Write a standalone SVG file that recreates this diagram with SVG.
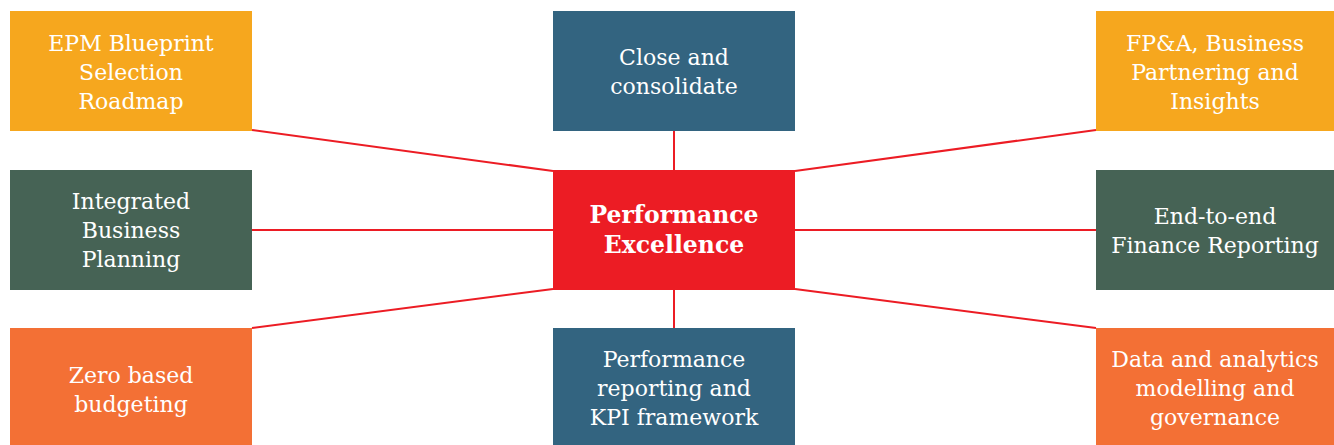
<svg xmlns="http://www.w3.org/2000/svg" width="1334" height="445" viewBox="0 0 1334 445">
<style>
.t{font-family:"DejaVu Serif","Liberation Serif",serif;font-size:22px;fill:#ffffff;text-anchor:middle}
.b{font-weight:bold;font-size:23.5px}
.c{stroke:#EC1C24;stroke-width:2;fill:none}
.y{fill:#F6A71E}.g{fill:#466355}.bl{fill:#336480}.r{fill:#EC1C24}.o{fill:#F37035}
</style>
<rect width="1334" height="445" fill="#ffffff"/>
<g id="connectors">
<line class="c" x1="252" y1="130" x2="553" y2="171"/>
<line class="c" x1="252" y1="230" x2="553" y2="230"/>
<line class="c" x1="252" y1="328" x2="553" y2="289"/>
<line class="c" x1="674" y1="131" x2="674" y2="170"/>
<line class="c" x1="674" y1="290" x2="674" y2="328"/>
<line class="c" x1="1096" y1="130" x2="795" y2="171"/>
<line class="c" x1="1096" y1="230" x2="795" y2="230"/>
<line class="c" x1="1096" y1="328" x2="795" y2="289"/>
</g>
<g id="epm"><rect class="y" x="10" y="11" width="242" height="120"/>
<text class="t" x="131" y="51">EPM Blueprint</text><text class="t" x="131" y="80">Selection</text><text class="t" x="131" y="109">Roadmap</text></g>
<g id="close"><rect class="bl" x="553" y="11" width="242" height="120"/>
<text class="t" x="674" y="65">Close and</text><text class="t" x="674" y="94">consolidate</text></g>
<g id="fpa"><rect class="y" x="1096" y="11" width="238" height="120"/>
<text class="t" x="1215" y="51">FP&amp;A, Business</text><text class="t" x="1215" y="80">Partnering and</text><text class="t" x="1215" y="109">Insights</text></g>
<g id="ibp"><rect class="g" x="10" y="170" width="242" height="120"/>
<text class="t" x="131" y="209">Integrated</text><text class="t" x="131" y="238">Business</text><text class="t" x="131" y="267">Planning</text></g>
<g id="center"><rect class="r" x="553" y="170" width="242" height="120"/>
<text class="t b" x="674" y="223">Performance</text><text class="t b" x="674" y="253">Excellence</text></g>
<g id="e2e"><rect class="g" x="1096" y="170" width="238" height="120"/>
<text class="t" x="1215" y="224">End-to-end</text><text class="t" x="1215" y="253">Finance Reporting</text></g>
<g id="zbb"><rect class="o" x="10" y="328" width="242" height="117"/>
<text class="t" x="131" y="383">Zero based</text><text class="t" x="131" y="412">budgeting</text></g>
<g id="kpi"><rect class="bl" x="553" y="328" width="242" height="117"/>
<text class="t" x="674" y="367">Performance</text><text class="t" x="674" y="396">reporting and</text><text class="t" x="674" y="425">KPI framework</text></g>
<g id="data"><rect class="o" x="1096" y="328" width="238" height="117"/>
<text class="t" x="1215" y="367">Data and analytics</text><text class="t" x="1215" y="396">modelling and</text><text class="t" x="1215" y="425">governance</text></g>
</svg>
